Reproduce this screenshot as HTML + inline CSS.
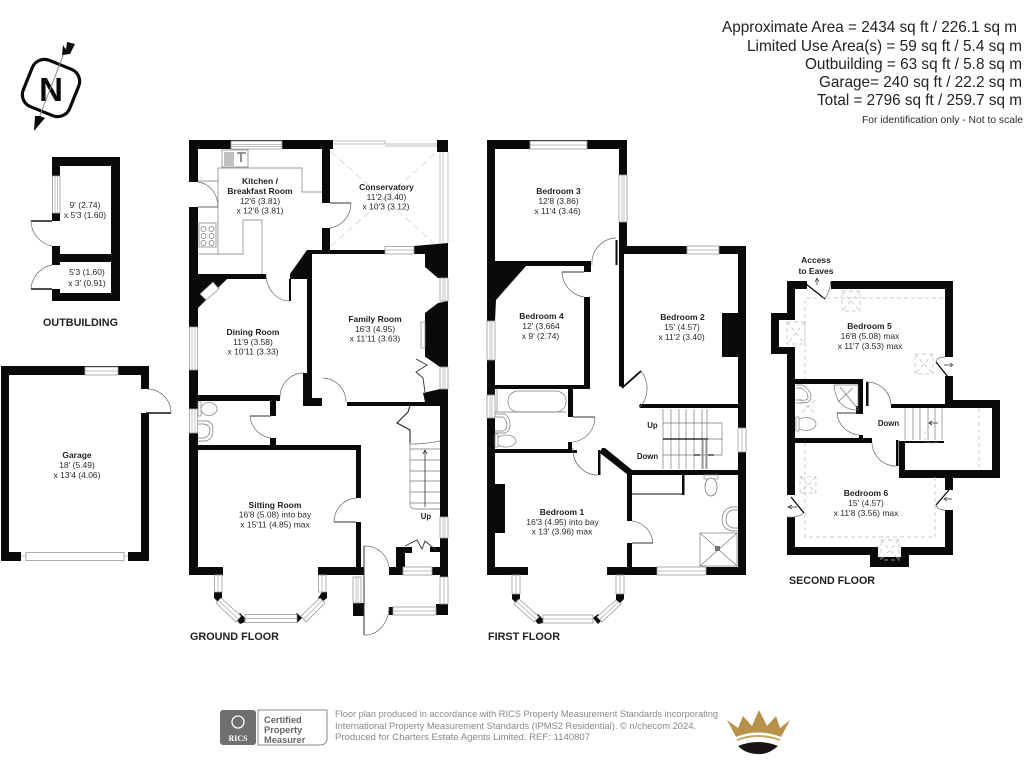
<!DOCTYPE html>
<html><head><meta charset="utf-8"><style>
html,body{margin:0;padding:0;background:#fff}
svg{display:block}
.k{fill:#0a0a0a}
.w{fill:#fff;stroke:#999;stroke-width:.8}
.l{fill:none;stroke:#aaa;stroke-width:.7}
.a{fill:none;stroke:#666;stroke-width:.7}
.f{fill:none;stroke:#777;stroke-width:.7}
.d{fill:none;stroke:#bbb;stroke-width:.7;stroke-dasharray:4 3}
text{font-family:"Liberation Sans",sans-serif;fill:#2a2a2a}
.r{font-size:8.5px;text-anchor:middle}
.b{font-size:8.5px;font-weight:bold;text-anchor:middle;fill:#222}
.h{font-size:15.6px;text-anchor:end;fill:#222}
.t{font-size:11px;font-weight:bold;fill:#222}
.g{font-size:9.4px;fill:#888}
</style></head><body>
<svg width="1024" height="768" viewBox="0 0 1024 768" xmlns="http://www.w3.org/2000/svg">
<rect width="1024" height="768" fill="#fff"/>

<!-- header -->
<text class="h" x="1017" y="32" textLength="295" lengthAdjust="spacingAndGlyphs">Approximate Area = 2434 sq ft / 226.1 sq m</text>
<text class="h" x="1022" y="51" textLength="275" lengthAdjust="spacingAndGlyphs">Limited Use Area(s) = 59 sq ft / 5.4 sq m</text>
<text class="h" x="1022" y="69" textLength="217" lengthAdjust="spacingAndGlyphs">Outbuilding = 63 sq ft / 5.8 sq m</text>
<text class="h" x="1022" y="87" textLength="203" lengthAdjust="spacingAndGlyphs">Garage= 240 sq ft / 22.2 sq m</text>
<text class="h" x="1022" y="105" textLength="205" lengthAdjust="spacingAndGlyphs">Total = 2796 sq ft / 259.7 sq m</text>
<text x="1023" y="123" font-size="10.3" text-anchor="end" textLength="161" lengthAdjust="spacingAndGlyphs">For identification only - Not to scale</text>

<!-- compass -->
<g transform="translate(51 88) rotate(22)">
<rect x="-25" y="-25" width="50" height="50" rx="13" fill="#fff" stroke="#0a0a0a" stroke-width="3.2"/>
</g>
<text x="51" y="101" font-size="33" font-weight="bold" text-anchor="middle" style="fill:#0a0a0a">N</text>
<path d="M66 48L39 118" stroke="#888" stroke-width="1" fill="none"/>
<path d="M67 42L75 44L70 54L62 55L63 45L66 50Z M40 116L45 118L34 131L35 116Z" class="k"/>

<!-- outbuilding -->
<path class="k" d="M52 157H120V301H52V289H60V293H111V262H60V265H52V246H60V254H111V166H60V176H52Z M52 213H60V221H52Z"/>
<rect class="w" x="52.5" y="176" width="7.5" height="37"/><path class="l" d="M55 176V213M57.5 176V213"/>
<path d="M31 221H52" stroke="#111" stroke-width="1.5"/>
<path d="M31 289H52" stroke="#111" stroke-width="1.5"/>
<path class="a" d="M31 221A26 26 0 0 0 52 246M31 289A26 26 0 0 1 52 265"/>
<text class="r" x="85" y="208">9' (2.74)</text>
<text class="r" x="85" y="218">x 5'3 (1.60)</text>
<text class="r" x="87" y="275">5'3 (1.60)</text>
<text class="r" x="87" y="286">x 3' (0.91)</text>
<text class="t" x="43" y="326" textLength="75" lengthAdjust="spacingAndGlyphs">OUTBUILDING</text>

<!-- garage -->
<path class="k" d="M1 366H149V389H141V375H9V552H21V561H1Z M141 413H149V561H128V552H141Z"/>
<rect class="w" x="85" y="367" width="33" height="8"/><path class="l" d="M85 371H118"/>
<rect x="21" y="552" width="107" height="9" fill="#fff"/>
<rect class="w" x="26" y="552.5" width="98" height="8"/><path class="l" d="M21 556H26M124 556H128"/>
<path d="M146 413H171" stroke="#111" stroke-width="1.4"/>
<path class="a" d="M148 389A24 24 0 0 1 171 413"/>
<text class="b" x="77" y="458">Garage</text>
<text class="r" x="77" y="468">18' (5.49)</text>
<text class="r" x="77" y="478">x 13'4 (4.06)</text>

<!-- GROUND FLOOR walls -->
<path class="k" d="M189 140H333V149H330V250H322V228H330V203H322V149H198V182H189Z"/>
<path class="k" d="M189 207H198V274H290L307 250H385V254H312V406H303V373H307V279H290V274H266V279H227L198 308V327H189Z"/>
<path class="k" d="M414 246L448 243V278H438L425 267V254H414Z"/>
<path class="k" d="M448 301L438 303L425 313V357L427 358L440 367H448Z"/>
<rect class="k" x="437" y="140" width="11" height="12"/>
<path class="k" d="M189 370H198V395H280V401H198V409H189Z"/>
<path class="k" d="M347 402H425L423 393L440 389H448V517H440V406H347Z"/>
<rect class="k" x="303" y="398" width="19" height="8"/>
<rect class="k" x="270" y="401" width="6" height="15"/>
<path class="k" d="M189 433H198V445H270V438H276V445H361V498H356V450H198V567H223V575H189Z"/>
<path class="k" d="M356 522H361V567H364V575H318V567H356Z"/>
<path class="k" d="M440 538H448V577H440V575H432V567H440Z"/>
<path class="k" d="M396 547H405V567H403V575H389V567H396Z"/>
<rect class="k" x="405" y="547" width="7" height="6"/>
<rect class="k" x="430" y="547" width="10" height="5"/>
<path class="k" d="M436 604H448V615H436Z M353 603H364V616H353Z M389 607H393V615H389Z"/>
<!-- bay -->
<path class="k" d="M214 592H222V600L218 602L214 598Z M235 618L240 613L245 618V622L240 624Z M292 618L297 613L302 618L297 623Z M322 592H327V598L322 602L318 598Z"/>
<rect class="w" x="214.5" y="575" width="7.5" height="17"/><path class="l" d="M218 575V592"/>
<rect class="w" x="318.5" y="575" width="7.5" height="17"/><path class="l" d="M322 575V592"/>
<rect class="w" x="245" y="614.5" width="52" height="8"/><path class="l" d="M245 618.5H297"/>
<path class="w" d="M221 598L241 616L236 622L216 603Z"/><path class="l" d="M218.500 600.500L238.500 619"/>
<path class="w" d="M320 598L301 616L306 622L325 603Z"/><path class="l" d="M322.500 600.500L303.500 619"/>
<!-- windows ground -->
<rect class="w" x="231" y="141" width="51" height="8"/><path class="l" d="M231 144.500H282M231 146.500H282"/>
<rect class="w" x="189.500" y="327" width="8" height="43"/><path class="l" d="M192 327V370M195 327V370"/>
<rect class="w" x="189.500" y="409" width="8" height="24"/><path class="l" d="M192 409V433M195 409V433"/>
<rect class="w" x="385" y="246.500" width="29" height="7.500"/><path class="l" d="M385 250H414"/>
<rect class="w" x="440" y="278" width="8" height="23"/><path class="l" d="M443 278V301M445 278V301"/>
<rect class="w" x="440" y="367" width="8" height="22"/><path class="l" d="M443 367V389M445 367V389"/>
<rect class="w" x="440" y="517" width="8" height="21"/><path class="l" d="M443 517V538M445 517V538"/>
<rect class="w" x="440" y="577" width="8" height="27"/><path class="l" d="M444 577V604"/>
<rect class="w" x="403" y="567" width="29" height="8"/><path class="l" d="M403 571H432"/>
<rect class="w" x="393" y="607" width="43" height="8"/><path class="l" d="M393 611H436"/>
<rect class="w" x="353" y="577" width="8" height="26"/><path class="l" d="M356 577V603M358 577V603"/>
<!-- conservatory -->
<path class="l" d="M333 141H385V144H437M333 144H385M385 146H437M440 152V243M443 152V243M448 152V243"/>
<path d="M331 152L437 246M331 246L437 152" fill="none" stroke="#ccc" stroke-width=".7" stroke-dasharray="7 4"/>
<!-- kitchen fit -->
<path class="f" d="M198 181H218M198 207H218M218 168H302V192H322M218 168V254H243V220H262V274M198 254H218"/>
<rect class="f" x="222" y="150" width="26" height="17" fill="#fff"/>
<path d="M224 153H234M224 155H234M224 157H234M224 159H234M224 161H234M224 163H234M224 165H234" stroke="#555" stroke-width=".8"/>
<path d="M241 152V162M237 153H240M242 153H246" stroke="#333" stroke-width="1.100"/>
<rect class="f" x="199" y="223" width="17" height="24"/>
<g class="f"><circle cx="203.500" cy="229" r="2.500"/><circle cx="211.500" cy="229" r="2.500"/><circle cx="203.500" cy="236" r="2.500"/><circle cx="211.500" cy="236" r="2.500"/><circle cx="203.500" cy="243" r="2.500"/><circle cx="211.500" cy="243" r="2.500"/></g>
<!-- chimney insert -->
<path d="M200 294L213 282L219 289L206 300Z" fill="#fff" stroke="#888" stroke-width=".7"/>
<rect x="421" y="322" width="4" height="26" fill="#fff" stroke="#888" stroke-width=".7"/>
<!-- ground doors -->
<path class="a" d="M198 182A22 25 0 0 1 218 207M351 203A25 25 0 0 1 330 228M266 274A24 27 0 0 0 289 301M280 397A24 24 0 0 1 304 373M323 378A24 24 0 0 1 346 402M250 416A24 24 0 0 0 271 438M356 498A24 24 0 0 0 334 522M364 546A24 24 0 0 1 389 567M364 635A24 28 0 0 0 389 607"/>
<path d="M198 207H218" stroke="#666" stroke-width=".9"/>
<path d="M330 203H351" stroke="#333" stroke-width="1"/>
<rect x="289" y="279" width="2" height="22" class="k"/>
<rect x="303.500" y="373" width="1.500" height="24" class="k"/>
<path d="M250 416H271" stroke="#333" stroke-width="1"/>
<path d="M334 522H356" stroke="#333" stroke-width="1"/>
<path d="M364 546V635" stroke="#333" stroke-width="1"/>
<path d="M410 406L408 412L397 423L410 430V443" fill="none" stroke="#222" stroke-width="1.100"/>
<path d="M416 359L427 365L416 372L423 378L425 392" fill="none" stroke="#333" stroke-width=".9"/>
<path d="M405 546L417 540L422 549L425 541L436 550" fill="none" stroke="#333" stroke-width=".9"/>
<!-- ground stairs -->
<path class="f" d="M410 443V504Q410 509 416 509H440M410 444Q426 444 440 441M410 449H440M410 460H440M410 471H440M410 481H440M410 492H440M410 503H440"/>
<path d="M425 507V451M423 454L425 450L427 454" fill="none" stroke="#333" stroke-width=".8"/>
<!-- wc ground -->
<ellipse cx="209" cy="409" rx="8" ry="6.500" fill="#fff" stroke="#888" stroke-width=".8"/>
<rect x="198" y="402" width="3" height="14" fill="#fff" stroke="#888" stroke-width=".7"/>
<path class="f" d="M198 421H206Q213 421 213 430Q213 439 206 441H198M198 424H204Q210 425 210 430Q210 436 204 438H198"/>
<text class="b" x="426" y="519" style="font-size:7.800px">Up</text>
<!-- ground labels -->
<text class="b" x="260" y="184">Kitchen /</text>
<text class="b" x="260" y="194">Breakfast Room</text>
<text class="r" x="260" y="204">12'6 (3.81)</text>
<text class="r" x="260" y="213.500">x 12'6 (3.81)</text>
<text class="b" x="386.500" y="190">Conservatory</text>
<text class="r" x="386.500" y="200">11'2 (3.40)</text>
<text class="r" x="386" y="209.500">x 10'3 (3.12)</text>
<text class="b" x="253" y="335">Dining Room</text>
<text class="r" x="253" y="345">11'9 (3.58)</text>
<text class="r" x="253" y="354.500">x 10'11 (3.33)</text>
<text class="b" x="375" y="322">Family Room</text>
<text class="r" x="375" y="332">16'3 (4.95)</text>
<text class="r" x="375" y="341.500">x 11'11 (3.63)</text>
<text class="b" x="275" y="508">Sitting Room</text>
<text class="r" x="275" y="517.500">16'8 (5.08) into bay</text>
<text class="r" x="275" y="527.500">x 15'11 (4.85) max</text>
<text class="t" x="190" y="640" textLength="89" lengthAdjust="spacingAndGlyphs">GROUND FLOOR</text>

<!-- FIRST FLOOR walls -->
<path class="k" d="M487 140H627V175H619V149H495V261H591V272H584V266H526L496 300L495 321H487Z"/>
<path class="k" d="M619 222H627V246H746V567H738V254H624V388L619 386V265H619Z"/>
<path class="k" d="M487 360H495V385H584V297H590V389H495V395H487Z"/>
<path class="k" d="M487 418H495V449H568V442H572V450H577V453H495V567H528V575H487Z"/>
<rect class="k" x="568" y="385" width="5" height="32"/>
<path class="k" d="M640 404H738V408H640L639 406Z"/>
<path d="M602 448L605 448L632 470V475L628 475L600 453Z" class="k"/>
<rect class="k" x="598" y="450" width="2.500" height="25"/>
<path class="k" d="M627 470H746V475H632V521H627Z M627 543H632V567H657V575H607V567H627Z M706 567H746V575H706Z"/>
<rect class="k" x="495" y="484" width="10" height="49"/>
<rect class="k" x="722" y="313" width="16" height="44"/>
<path d="M622 388L641 371" stroke="#0a0a0a" stroke-width="1.800"/>
<rect class="k" x="615.500" y="240" width="2" height="25"/>
<!-- bay first -->
<path class="k" d="M512 594H520V601L517 604L512 599Z M533 618L538 614L543 619V623L538 624Z M593 618L598 614L603 619L598 624Z M616 594H624V599L619 604L616 601Z"/>
<rect class="w" x="512" y="575" width="8" height="19"/><path class="l" d="M516 575V594"/>
<rect class="w" x="616" y="575" width="8" height="19"/><path class="l" d="M620 575V594"/>
<rect class="w" x="543" y="615" width="50" height="8"/><path class="l" d="M543 619H593"/>
<path class="w" d="M519 599L539 617L534 622L514 604Z"/><path class="l" d="M516.500 601.500L536.500 619.500"/>
<path class="w" d="M616 600L597 617L602 622L621 604Z"/><path class="l" d="M618.500 602L599.500 619.500"/>
<!-- windows first -->
<rect class="w" x="530" y="141" width="57" height="8"/><path class="l" d="M530 145H587"/>
<rect class="w" x="619" y="175" width="8" height="47"/><path class="l" d="M622 175V222M624 175V222"/>
<rect class="w" x="487" y="321" width="8" height="39"/><path class="l" d="M490 321V360M492 321V360"/>
<rect class="w" x="487" y="395" width="8" height="23"/><path class="l" d="M490 395V418M492 395V418"/>
<rect class="w" x="687" y="246" width="32" height="8"/><path class="l" d="M687 250H719"/>
<rect class="w" x="738" y="428" width="8" height="24"/><path class="l" d="M742 428V452"/>
<rect class="w" x="657" y="567" width="49" height="8"/><path class="l" d="M657 571H706"/>
<!-- first doors -->
<path class="a" d="M592 265A25 25 0 0 1 616 238M562 272A26 26 0 0 0 584 297M641 371A28 28 0 0 1 640 407M595 417A25 25 0 0 1 573 442M573 448A25 25 0 0 0 598 475M632 521A24 24 0 0 1 653 543"/>
<path d="M562 272H584" stroke="#333" stroke-width=".9"/>
<path d="M573 417H595" stroke="#333" stroke-width=".9"/>
<path d="M632 543H653" stroke="#333" stroke-width=".9"/>
<!-- bath -->
<rect class="f" x="508" y="391" width="58" height="21" rx="10"/>
<path class="f" d="M497 388V412H566M495 412H512"/>
<path class="f" d="M495 414H505Q510 418 510 425Q510 431 505 433H495M495 417H503Q507 420 507 425Q507 430 503 431H495"/>
<ellipse cx="506" cy="441" rx="10" ry="6" fill="#fff" stroke="#888" stroke-width=".8"/>
<rect x="495" y="434" width="3" height="13" fill="#fff" stroke="#888" stroke-width=".7"/>
<!-- first stairs -->
<path class="f" d="M663 409V469M671 409V469M679 409V469M686 409V469M694 409V469M702 409V469M707 409V469M663 423H722V455H707M663 455H707M708 439H722"/>
<path d="M663 439H708" stroke="#0a0a0a" stroke-width="1.200"/>
<path d="M703 439V469M706 439V469" stroke="#888" stroke-width="1"/>
<path d="M694 455H700M708 455H714" stroke="#222" stroke-width="1.200"/>
<text class="b" x="652.500" y="428" style="font-size:7.800px">Up</text>
<text class="b" x="647.500" y="459" style="font-size:7.800px">Down</text>
<!-- ensuite -->
<path d="M632 494H684" stroke="#111" stroke-width="1"/>
<rect class="k" x="682" y="475" width="2.500" height="20"/>
<rect x="704" y="475" width="14" height="4" fill="#fff" stroke="#888" stroke-width=".7"/>
<ellipse cx="711" cy="487" rx="6" ry="9" fill="#fff" stroke="#777" stroke-width=".8"/>
<path class="f" d="M738 507H731Q722 510 722 520Q722 529 732 531H738M738 510H732Q726 512 726 520Q726 526 733 528H738"/>
<rect class="f" x="700" y="533" width="37" height="33"/>
<path class="f" d="M700 533L737 566M737 533L700 566"/>
<rect x="715" y="546" width="5" height="5" fill="#777"/>
<!-- first labels -->
<text class="b" x="558.500" y="194">Bedroom 3</text>
<text class="r" x="558.500" y="204">12'8 (3.86)</text>
<text class="r" x="557.500" y="214">x 11'4 (3.46)</text>
<text class="b" x="541.500" y="319">Bedroom 4</text>
<text class="r" x="541" y="329">12' (3.664</text>
<text class="r" x="540.500" y="339">x 9' (2.74)</text>
<text class="b" x="682.500" y="320">Bedroom 2</text>
<text class="r" x="682" y="330">15' (4.57)</text>
<text class="r" x="681.500" y="340">x 11'2 (3.40)</text>
<text class="b" x="562" y="515">Bedroom 1</text>
<text class="r" x="562.500" y="525">16'3 (4.95) into bay</text>
<text class="r" x="562" y="534.500">x 13' (3.96) max</text>
<text class="t" x="488" y="640" textLength="72" lengthAdjust="spacingAndGlyphs">FIRST FLOOR</text>

<!-- SECOND FLOOR walls -->
<path class="k" d="M787 281H807V289H795V313H787Z M831 281H953V357H945V289H831Z"/>
<path class="k" d="M771 313H795V320H779V347H795V354H771Z"/>
<path class="k" d="M787 354H795V495H787Z"/>
<path class="k" d="M787 517H795V547H878V557H901V547H945V510H953V555H909V567H870V555H787Z"/>
<path class="k" d="M945 376H953V400H1000V478H953V490H945V478H899V441H944V443H905V470H992V408H891V404H945Z"/>
<path class="k" d="M795 379H863V413H858V384H795Z"/>
<path class="k" d="M795 438H859V435H863V438H872V443H795Z"/>
<rect class="k" x="856" y="406" width="7" height="8"/>
<rect class="k" x="866" y="382" width="2.500" height="24"/>
<rect class="k" x="896" y="440" width="2.500" height="26"/>
<path d="M806 284L825 299M936 362L948 377M936 505L949 490M791 497L804 513" stroke="#0a0a0a" stroke-width="1.300" fill="none"/>
<path class="a" d="M825 299Q830 291 831 281M945 357Q937 357 936 362M945 510Q937 510 936 505M804 513Q798 518 787 517"/>
<path d="M817 285V279M815 282L817 278L819 282M944 365H952M950 363L953 365L950 367M944 499H952M947 497L944 499L947 501M797 507H789M792 505L788 507L792 509" fill="none" stroke="#333" stroke-width=".7"/>
<!-- second doors -->
<path class="a" d="M866 382A24 24 0 0 1 891 405M837 413A24 24 0 0 0 859 435M872 443A24 24 0 0 0 896 466"/>
<path d="M837 413H858" stroke="#333" stroke-width=".9"/>
<!-- dashed -->
<path class="d" d="M943 298H805V379M805 443V537H935V477"/>
<path class="d" d="M979 408V470"/>
<g class="d">
<rect x="842" y="291" width="18" height="20"/><path d="M842 291L860 311M860 291L842 311"/>
<rect x="787" y="322" width="18" height="22"/><path d="M787 322L805 344M805 322L787 344"/>
<rect x="915" y="354" width="18" height="20"/><path d="M915 354L933 374M933 354L915 374"/>
<rect x="800" y="477" width="16" height="16"/><path d="M800 477L816 493M816 477L800 493"/>
<rect x="881" y="540" width="18" height="20"/><path d="M881 540L899 560M899 540L881 560"/>
<path d="M925 431V443H941"/>
<path d="M801 400L815 414M815 400L801 414"/>
</g>
<!-- second stairs -->
<path class="f" d="M905 408V440M913 408V440M920 408V440M928 408V440M935 408V440M942 408V440"/>
<path d="M938 423H930M932 421L929 423L932 425" fill="none" stroke="#333" stroke-width=".8"/>
<!-- second bath -->
<path class="f" d="M796 385H802Q811 390 811 397Q811 403 802 403H796M796 388H801Q808 392 808 397Q808 401 801 400H796"/>
<ellipse cx="806" cy="424" rx="10" ry="6.500" fill="#fff" stroke="#888" stroke-width=".8"/>
<rect x="796" y="417" width="3" height="14" fill="#fff" stroke="#888" stroke-width=".7"/>
<path class="f" d="M834 385H858V410Q836 410 834 385ZM840 387L857 408M853 388L838 402"/>
<text class="b" x="888.500" y="426" style="font-size:7.800px">Down</text>
<!-- second labels -->
<text class="b" x="869.500" y="329">Bedroom 5</text>
<text class="r" x="870" y="339">16'8 (5.08) max</text>
<text class="r" x="870" y="349">x 11'7 (3.53) max</text>
<text class="b" x="866" y="496">Bedroom 6</text>
<text class="r" x="866" y="506">15' (4.57)</text>
<text class="r" x="866" y="516">x 11'8 (3.56) max</text>
<text class="b" x="816" y="263">Access</text>
<text class="b" x="816" y="274">to Eaves</text>
<text class="t" x="789" y="584" textLength="86" lengthAdjust="spacingAndGlyphs">SECOND FLOOR</text>

<!-- footer -->
<rect x="220" y="710" width="36" height="35" rx="3" fill="#6f6f6f"/>
<circle cx="238" cy="722" r="6" fill="none" stroke="#fff" stroke-width="1.300"/>
<text x="238" y="741" font-size="8" font-weight="bold" text-anchor="middle" style="fill:#fff;font-family:'Liberation Serif',serif">RICS</text>
<path d="M258 710H327V738Q327 745 320 745H258Z" fill="#fff" stroke="#888" stroke-width="1"/>
<text x="264" y="723" font-size="9.300" font-weight="bold" style="fill:#666">Certified</text>
<text x="264" y="733" font-size="9.300" font-weight="bold" style="fill:#666">Property</text>
<text x="264" y="743" font-size="9.300" font-weight="bold" style="fill:#666">Measurer</text>
<text class="g" x="335" y="717" textLength="383" lengthAdjust="spacingAndGlyphs">Floor plan produced in accordance with RICS Property Measurement Standards incorporating</text>
<text class="g" x="335" y="729" textLength="361" lengthAdjust="spacingAndGlyphs">International Property Measurement Standards (IPMS2 Residential).   © n/checom 2024.</text>
<text class="g" x="335" y="740" textLength="255" lengthAdjust="spacingAndGlyphs">Produced for Charters Estate Agents Limited.   REF:  1140807</text>
<path d="M727 720L738 728L743 716L752 726L759 710L767 726L776 716L780 728L790 720L781 737Q758 728 736 737Z" fill="#b8924a"/>
<path d="M737 740Q758 732 780 740" stroke="#c9a866" stroke-width="2" fill="none"/>
<path d="M738 746Q758 738 778 746Q768 755 758 754Q746 754 738 746Z" fill="#1a1416"/>
</svg>
</body></html>
